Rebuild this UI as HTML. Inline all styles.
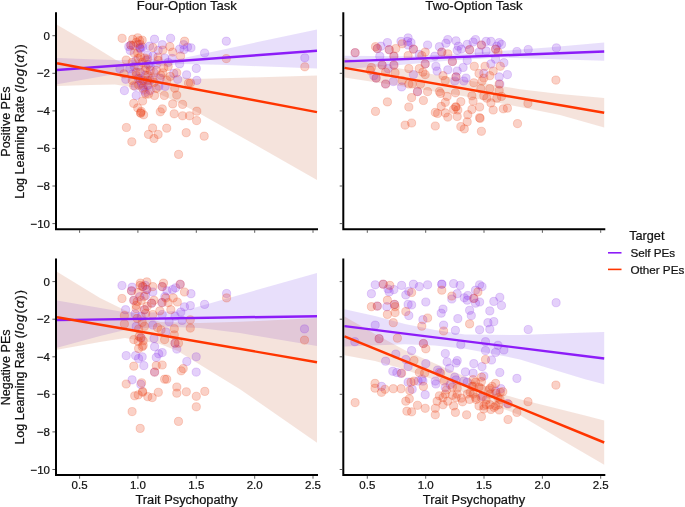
<!DOCTYPE html><html><head><meta charset="utf-8"><style>
html,body{margin:0;padding:0;background:#fff;width:685px;height:507px;overflow:hidden}
svg{display:block;filter:blur(0.3px)}
text{font-family:"Liberation Sans",sans-serif;fill:#111;stroke:#111;stroke-width:0.22px}
</style></head><body>
<svg width="685" height="507" viewBox="0 0 685 507">
<rect width="685" height="507" fill="#fff"/>
<polygon points="57.0,57.9 90.0,59.2 115.0,60.0 150.0,59.8 180.0,58.8 220.0,50.3 260.0,41.6 317.0,29.4 317.0,68.6 260.0,66.3 220.0,64.8 180.0,64.0 150.0,67.5 115.0,74.0 90.0,78.5 57.0,84.2" fill="rgba(115,60,230,0.165)"/>
<polygon points="57.0,24.8 90.0,44.0 116.0,60.0 150.0,72.0 193.6,79.0 250.0,77.5 317.0,75.6 317.0,180.0 260.0,147.5 200.0,113.8 175.0,101.0 150.0,90.0 115.0,84.5 90.0,85.0 57.0,86.0" fill="rgba(195,90,45,0.17)"/>
<g fill="rgba(132,40,232,0.22)" stroke="rgba(132,40,232,0.22)" stroke-width="0.9">
<circle cx="130.8" cy="45.2" r="4.1"/>
<circle cx="139.6" cy="48.1" r="4.1"/>
<circle cx="142.6" cy="47.1" r="4.1"/>
<circle cx="128.8" cy="46.6" r="4.1"/>
<circle cx="149.5" cy="46.2" r="4.1"/>
<circle cx="119.9" cy="68.8" r="4.1"/>
<circle cx="129.8" cy="68.8" r="4.1"/>
<circle cx="135.7" cy="60.9" r="4.1"/>
<circle cx="147.5" cy="55.0" r="4.1"/>
<circle cx="154.5" cy="39.2" r="4.1"/>
<circle cx="170.6" cy="38.3" r="4.1"/>
<circle cx="162.3" cy="44.7" r="4.1"/>
<circle cx="183.6" cy="44.7" r="4.1"/>
<circle cx="179.6" cy="49.1" r="4.1"/>
<circle cx="187.5" cy="47.1" r="4.1"/>
<circle cx="153.0" cy="56.0" r="4.1"/>
<circle cx="164.8" cy="58.0" r="4.1"/>
<circle cx="186.6" cy="74.8" r="4.1"/>
<circle cx="154.0" cy="72.8" r="4.1"/>
<circle cx="179.6" cy="63.9" r="4.1"/>
<circle cx="124.4" cy="90.6" r="4.1"/>
<circle cx="136.2" cy="95.5" r="4.1"/>
<circle cx="125.8" cy="79.3" r="4.1"/>
<circle cx="141.6" cy="83.2" r="4.1"/>
<circle cx="143.6" cy="90.1" r="4.1"/>
<circle cx="158.8" cy="86.2" r="4.1"/>
<circle cx="173.7" cy="73.4" r="4.1"/>
<circle cx="177.7" cy="79.3" r="4.1"/>
<circle cx="143.2" cy="86.2" r="4.1"/>
<circle cx="226.3" cy="41.2" r="4.1"/>
<circle cx="204.6" cy="53.0" r="4.1"/>
<circle cx="196.3" cy="68.4" r="4.1"/>
<circle cx="196.8" cy="80.4" r="4.1"/>
<circle cx="191.0" cy="47.8" r="4.1"/>
<circle cx="184.0" cy="49.6" r="4.1"/>
<circle cx="304.8" cy="57.8" r="4.1"/>
<circle cx="134.2" cy="66.4" r="4.1"/>
<circle cx="140.2" cy="72.4" r="4.1"/>
<circle cx="148.2" cy="64.4" r="4.1"/>
<circle cx="156.2" cy="64.4" r="4.1"/>
<circle cx="160.2" cy="78.4" r="4.1"/>
<circle cx="150.2" cy="80.4" r="4.1"/>
<circle cx="138.2" cy="78.4" r="4.1"/>
<circle cx="132.2" cy="74.4" r="4.1"/>
<circle cx="145.2" cy="75.4" r="4.1"/>
<circle cx="168.2" cy="62.4" r="4.1"/>
<circle cx="172.2" cy="58.4" r="4.1"/>
<circle cx="158.2" cy="50.4" r="4.1"/>
<circle cx="165.2" cy="86.4" r="4.1"/>
<circle cx="150.2" cy="90.4" r="4.1"/>
<circle cx="140.2" cy="80.4" r="4.1"/>
<circle cx="148.2" cy="85.4" r="4.1"/>
<circle cx="145.2" cy="92.4" r="4.1"/>
<circle cx="135.2" cy="86.4" r="4.1"/>
<circle cx="130.2" cy="50.4" r="4.1"/>
<circle cx="138.2" cy="44.4" r="4.1"/>
<circle cx="146.2" cy="60.4" r="4.1"/>
<circle cx="150.2" cy="66.4" r="4.1"/>
<circle cx="140.6" cy="49.0" r="4.1"/>
<circle cx="140.2" cy="47.6" r="4.1"/>
</g>
<g fill="rgba(234,58,12,0.232)" stroke="rgba(234,58,12,0.232)" stroke-width="0.9">
<circle cx="122.1" cy="38.3" r="4.1"/>
<circle cx="132.7" cy="39.2" r="4.1"/>
<circle cx="137.7" cy="37.8" r="4.1"/>
<circle cx="139.6" cy="40.7" r="4.1"/>
<circle cx="130.8" cy="45.2" r="4.1"/>
<circle cx="134.2" cy="53.1" r="4.1"/>
<circle cx="137.7" cy="53.1" r="4.1"/>
<circle cx="126.2" cy="60.0" r="4.1"/>
<circle cx="144.6" cy="58.0" r="4.1"/>
<circle cx="147.5" cy="59.0" r="4.1"/>
<circle cx="140.6" cy="57.0" r="4.1"/>
<circle cx="123.9" cy="73.8" r="4.1"/>
<circle cx="184.6" cy="41.2" r="4.1"/>
<circle cx="153.0" cy="47.6" r="4.1"/>
<circle cx="162.8" cy="50.1" r="4.1"/>
<circle cx="169.8" cy="46.6" r="4.1"/>
<circle cx="172.7" cy="52.1" r="4.1"/>
<circle cx="180.6" cy="56.0" r="4.1"/>
<circle cx="158.0" cy="57.0" r="4.1"/>
<circle cx="142.2" cy="40.2" r="4.1"/>
<circle cx="146.1" cy="67.8" r="4.1"/>
<circle cx="163.8" cy="67.8" r="4.1"/>
<circle cx="176.7" cy="72.8" r="4.1"/>
<circle cx="162.8" cy="72.8" r="4.1"/>
<circle cx="133.7" cy="85.7" r="4.1"/>
<circle cx="133.7" cy="103.4" r="4.1"/>
<circle cx="142.6" cy="101.0" r="4.1"/>
<circle cx="137.7" cy="107.9" r="4.1"/>
<circle cx="140.6" cy="112.8" r="4.1"/>
<circle cx="143.6" cy="114.8" r="4.1"/>
<circle cx="138.7" cy="85.2" r="4.1"/>
<circle cx="142.6" cy="88.2" r="4.1"/>
<circle cx="147.5" cy="85.2" r="4.1"/>
<circle cx="145.6" cy="94.1" r="4.1"/>
<circle cx="148.5" cy="94.1" r="4.1"/>
<circle cx="147.5" cy="80.3" r="4.1"/>
<circle cx="154.5" cy="95.5" r="4.1"/>
<circle cx="164.3" cy="95.5" r="4.1"/>
<circle cx="172.7" cy="103.9" r="4.1"/>
<circle cx="182.6" cy="104.4" r="4.1"/>
<circle cx="162.3" cy="108.9" r="4.1"/>
<circle cx="160.3" cy="111.8" r="4.1"/>
<circle cx="174.2" cy="113.8" r="4.1"/>
<circle cx="182.6" cy="115.8" r="4.1"/>
<circle cx="189.5" cy="115.8" r="4.1"/>
<circle cx="166.8" cy="80.3" r="4.1"/>
<circle cx="174.7" cy="88.2" r="4.1"/>
<circle cx="176.7" cy="95.1" r="4.1"/>
<circle cx="188.5" cy="83.2" r="4.1"/>
<circle cx="160.8" cy="75.3" r="4.1"/>
<circle cx="126.4" cy="127.5" r="4.1"/>
<circle cx="131.8" cy="141.8" r="4.1"/>
<circle cx="152.6" cy="128.0" r="4.1"/>
<circle cx="148.5" cy="134.4" r="4.1"/>
<circle cx="158.1" cy="134.4" r="4.1"/>
<circle cx="154.0" cy="138.5" r="4.1"/>
<circle cx="166.7" cy="128.2" r="4.1"/>
<circle cx="178.6" cy="154.4" r="4.1"/>
<circle cx="186.2" cy="132.7" r="4.1"/>
<circle cx="204.2" cy="136.2" r="4.1"/>
<circle cx="196.6" cy="120.6" r="4.1"/>
<circle cx="226.3" cy="58.6" r="4.1"/>
<circle cx="190.5" cy="83.0" r="4.1"/>
<circle cx="196.8" cy="111.2" r="4.1"/>
<circle cx="304.8" cy="66.8" r="4.1"/>
<circle cx="132.2" cy="62.4" r="4.1"/>
<circle cx="138.2" cy="66.4" r="4.1"/>
<circle cx="142.2" cy="62.4" r="4.1"/>
<circle cx="150.2" cy="70.4" r="4.1"/>
<circle cx="156.2" cy="70.4" r="4.1"/>
<circle cx="136.2" cy="72.4" r="4.1"/>
<circle cx="132.2" cy="80.4" r="4.1"/>
<circle cx="140.2" cy="78.4" r="4.1"/>
<circle cx="154.2" cy="82.4" r="4.1"/>
<circle cx="158.2" cy="60.4" r="4.1"/>
<circle cx="168.2" cy="66.4" r="4.1"/>
<circle cx="170.2" cy="76.4" r="4.1"/>
<circle cx="156.2" cy="88.4" r="4.1"/>
<circle cx="143.2" cy="80.4" r="4.1"/>
<circle cx="141.2" cy="111.4" r="4.1"/>
<circle cx="140.7" cy="113.2" r="4.1"/>
<circle cx="148.2" cy="75.4" r="4.1"/>
<circle cx="152.2" cy="78.4" r="4.1"/>
<circle cx="136.2" cy="75.4" r="4.1"/>
<circle cx="145.2" cy="70.4" r="4.1"/>
<circle cx="138.2" cy="58.4" r="4.1"/>
<circle cx="133.2" cy="45.4" r="4.1"/>
<circle cx="140.2" cy="44.4" r="4.1"/>
<circle cx="136.2" cy="42.4" r="4.1"/>
</g>
<line x1="57" y1="70" x2="317" y2="50.8" stroke="#8c1cf8" stroke-width="2.45"/>
<line x1="57" y1="63.2" x2="317" y2="112.1" stroke="#ff3500" stroke-width="2.45"/>
<path d="M56.0 13.3 V229.2 H317.0" fill="none" stroke="#000" stroke-width="2" stroke-linecap="square" stroke-linejoin="miter"/>
<line x1="52.4" y1="35.7" x2="55.0" y2="35.7" stroke="#333" stroke-width="0.8"/>
<text x="50.0" y="39.7" font-size="11.5" text-anchor="end">0</text>
<line x1="52.4" y1="73.3" x2="55.0" y2="73.3" stroke="#333" stroke-width="0.8"/>
<text x="50.0" y="77.3" font-size="11.5" text-anchor="end">−2</text>
<line x1="52.4" y1="110.9" x2="55.0" y2="110.9" stroke="#333" stroke-width="0.8"/>
<text x="50.0" y="114.9" font-size="11.5" text-anchor="end">−4</text>
<line x1="52.4" y1="148.4" x2="55.0" y2="148.4" stroke="#333" stroke-width="0.8"/>
<text x="50.0" y="152.4" font-size="11.5" text-anchor="end">−6</text>
<line x1="52.4" y1="186.0" x2="55.0" y2="186.0" stroke="#333" stroke-width="0.8"/>
<text x="50.0" y="190.0" font-size="11.5" text-anchor="end">−8</text>
<line x1="52.4" y1="223.6" x2="55.0" y2="223.6" stroke="#333" stroke-width="0.8"/>
<text x="50.0" y="227.6" font-size="11.5" text-anchor="end">−10</text>
<line x1="79.6" y1="230.2" x2="79.6" y2="232.8" stroke="#333" stroke-width="0.8"/>
<line x1="137.9" y1="230.2" x2="137.9" y2="232.8" stroke="#333" stroke-width="0.8"/>
<line x1="196.3" y1="230.2" x2="196.3" y2="232.8" stroke="#333" stroke-width="0.8"/>
<line x1="254.7" y1="230.2" x2="254.7" y2="232.8" stroke="#333" stroke-width="0.8"/>
<line x1="313.0" y1="230.2" x2="313.0" y2="232.8" stroke="#333" stroke-width="0.8"/>
<polygon points="344.5,55.7 400.0,56.3 450.0,54.5 500.0,51.0 548.0,47.5 604.2,42.5 604.2,60.7 548.0,59.0 500.0,57.5 450.0,60.5 400.0,65.0 344.5,69.0" fill="rgba(115,60,230,0.165)"/>
<polygon points="344.5,58.0 400.0,68.5 460.0,79.0 520.0,89.2 560.0,94.1 604.2,98.0 604.2,127.6 560.0,114.9 540.0,110.9 520.0,107.0 460.0,95.5 400.0,86.0 344.5,77.4" fill="rgba(195,90,45,0.17)"/>
<g fill="rgba(132,40,232,0.22)" stroke="rgba(132,40,232,0.22)" stroke-width="0.9">
<circle cx="355.1" cy="52.7" r="4.1"/>
<circle cx="377.3" cy="48.5" r="4.1"/>
<circle cx="387.4" cy="42.6" r="4.1"/>
<circle cx="380.9" cy="46.2" r="4.1"/>
<circle cx="379.8" cy="56.2" r="4.1"/>
<circle cx="389.2" cy="49.7" r="4.1"/>
<circle cx="401.0" cy="41.4" r="4.1"/>
<circle cx="408.1" cy="37.9" r="4.1"/>
<circle cx="408.1" cy="45.0" r="4.1"/>
<circle cx="393.9" cy="56.2" r="4.1"/>
<circle cx="382.1" cy="65.1" r="4.1"/>
<circle cx="393.9" cy="65.1" r="4.1"/>
<circle cx="388.0" cy="68.6" r="4.1"/>
<circle cx="376.1" cy="78.1" r="4.1"/>
<circle cx="385.6" cy="84.0" r="4.1"/>
<circle cx="373.8" cy="75.7" r="4.1"/>
<circle cx="411.0" cy="42.6" r="4.1"/>
<circle cx="407.5" cy="41.4" r="4.1"/>
<circle cx="427.6" cy="45.0" r="4.1"/>
<circle cx="439.4" cy="46.7" r="4.1"/>
<circle cx="447.8" cy="39.6" r="4.1"/>
<circle cx="445.9" cy="43.2" r="4.1"/>
<circle cx="456.0" cy="40.8" r="4.1"/>
<circle cx="458.4" cy="46.2" r="4.1"/>
<circle cx="457.2" cy="50.3" r="4.1"/>
<circle cx="434.8" cy="56.2" r="4.1"/>
<circle cx="419.3" cy="54.4" r="4.1"/>
<circle cx="425.2" cy="63.9" r="4.1"/>
<circle cx="435.9" cy="66.3" r="4.1"/>
<circle cx="437.1" cy="71.0" r="4.1"/>
<circle cx="447.8" cy="69.8" r="4.1"/>
<circle cx="457.2" cy="71.0" r="4.1"/>
<circle cx="463.1" cy="67.5" r="4.1"/>
<circle cx="456.0" cy="76.9" r="4.1"/>
<circle cx="413.4" cy="74.6" r="4.1"/>
<circle cx="413.4" cy="49.1" r="4.1"/>
<circle cx="441.8" cy="52.1" r="4.1"/>
<circle cx="452.4" cy="61.5" r="4.1"/>
<circle cx="475.5" cy="39.6" r="4.1"/>
<circle cx="473.1" cy="42.0" r="4.1"/>
<circle cx="467.2" cy="44.4" r="4.1"/>
<circle cx="486.1" cy="41.4" r="4.1"/>
<circle cx="490.9" cy="41.4" r="4.1"/>
<circle cx="499.2" cy="42.6" r="4.1"/>
<circle cx="501.5" cy="44.4" r="4.1"/>
<circle cx="496.8" cy="46.2" r="4.1"/>
<circle cx="516.9" cy="51.5" r="4.1"/>
<circle cx="479.0" cy="52.1" r="4.1"/>
<circle cx="486.1" cy="50.9" r="4.1"/>
<circle cx="467.2" cy="60.4" r="4.1"/>
<circle cx="495.6" cy="59.2" r="4.1"/>
<circle cx="461.3" cy="49.1" r="4.1"/>
<circle cx="503.9" cy="62.7" r="4.1"/>
<circle cx="507.4" cy="74.6" r="4.1"/>
<circle cx="499.2" cy="76.9" r="4.1"/>
<circle cx="466.0" cy="78.1" r="4.1"/>
<circle cx="483.8" cy="73.4" r="4.1"/>
<circle cx="490.9" cy="63.9" r="4.1"/>
<circle cx="481.4" cy="45.0" r="4.1"/>
<circle cx="469.6" cy="49.7" r="4.1"/>
<circle cx="495.6" cy="49.1" r="4.1"/>
<circle cx="401.6" cy="86.9" r="4.1"/>
<circle cx="393.3" cy="81.6" r="4.1"/>
<circle cx="417.5" cy="91.6" r="4.1"/>
<circle cx="454.8" cy="81.0" r="4.1"/>
<circle cx="463.8" cy="81.0" r="4.1"/>
<circle cx="499.8" cy="84.0" r="4.1"/>
<circle cx="528.2" cy="49.5" r="4.1"/>
<circle cx="556.4" cy="47.9" r="4.1"/>
</g>
<g fill="rgba(234,58,12,0.232)" stroke="rgba(234,58,12,0.232)" stroke-width="0.9">
<circle cx="355.1" cy="52.7" r="4.1"/>
<circle cx="375.5" cy="46.7" r="4.1"/>
<circle cx="377.3" cy="48.5" r="4.1"/>
<circle cx="389.2" cy="49.7" r="4.1"/>
<circle cx="395.8" cy="48.5" r="4.1"/>
<circle cx="402.2" cy="43.8" r="4.1"/>
<circle cx="393.9" cy="56.2" r="4.1"/>
<circle cx="382.1" cy="65.1" r="4.1"/>
<circle cx="393.9" cy="65.1" r="4.1"/>
<circle cx="371.4" cy="67.5" r="4.1"/>
<circle cx="370.2" cy="70.4" r="4.1"/>
<circle cx="385.6" cy="72.2" r="4.1"/>
<circle cx="395.1" cy="72.8" r="4.1"/>
<circle cx="408.1" cy="55.6" r="4.1"/>
<circle cx="376.1" cy="78.1" r="4.1"/>
<circle cx="385.6" cy="84.0" r="4.1"/>
<circle cx="402.2" cy="80.5" r="4.1"/>
<circle cx="413.4" cy="49.1" r="4.1"/>
<circle cx="441.8" cy="52.1" r="4.1"/>
<circle cx="452.4" cy="61.5" r="4.1"/>
<circle cx="425.2" cy="52.1" r="4.1"/>
<circle cx="421.8" cy="55.6" r="4.1"/>
<circle cx="447.8" cy="53.8" r="4.1"/>
<circle cx="408.8" cy="68.6" r="4.1"/>
<circle cx="419.3" cy="68.6" r="4.1"/>
<circle cx="425.2" cy="74.6" r="4.1"/>
<circle cx="422.9" cy="72.2" r="4.1"/>
<circle cx="443.0" cy="75.7" r="4.1"/>
<circle cx="445.3" cy="80.5" r="4.1"/>
<circle cx="412.2" cy="84.0" r="4.1"/>
<circle cx="420.5" cy="84.0" r="4.1"/>
<circle cx="425.2" cy="63.9" r="4.1"/>
<circle cx="456.0" cy="76.9" r="4.1"/>
<circle cx="481.4" cy="45.0" r="4.1"/>
<circle cx="469.6" cy="49.7" r="4.1"/>
<circle cx="495.6" cy="49.1" r="4.1"/>
<circle cx="498.0" cy="52.1" r="4.1"/>
<circle cx="474.3" cy="66.3" r="4.1"/>
<circle cx="485.0" cy="66.3" r="4.1"/>
<circle cx="493.2" cy="71.0" r="4.1"/>
<circle cx="500.3" cy="66.3" r="4.1"/>
<circle cx="479.0" cy="73.4" r="4.1"/>
<circle cx="483.8" cy="78.1" r="4.1"/>
<circle cx="489.8" cy="75.7" r="4.1"/>
<circle cx="499.2" cy="84.0" r="4.1"/>
<circle cx="387.4" cy="101.9" r="4.1"/>
<circle cx="375.5" cy="111.4" r="4.1"/>
<circle cx="408.8" cy="107.0" r="4.1"/>
<circle cx="405.1" cy="125.1" r="4.1"/>
<circle cx="417.5" cy="91.6" r="4.1"/>
<circle cx="427.6" cy="91.6" r="4.1"/>
<circle cx="411.6" cy="97.6" r="4.1"/>
<circle cx="423.4" cy="100.5" r="4.1"/>
<circle cx="439.4" cy="91.6" r="4.1"/>
<circle cx="440.6" cy="93.4" r="4.1"/>
<circle cx="447.1" cy="96.4" r="4.1"/>
<circle cx="455.4" cy="92.8" r="4.1"/>
<circle cx="445.3" cy="102.3" r="4.1"/>
<circle cx="441.2" cy="106.4" r="4.1"/>
<circle cx="435.3" cy="112.4" r="4.1"/>
<circle cx="437.6" cy="113.5" r="4.1"/>
<circle cx="445.3" cy="112.9" r="4.1"/>
<circle cx="447.8" cy="117.1" r="4.1"/>
<circle cx="453.6" cy="109.4" r="4.1"/>
<circle cx="456.0" cy="107.0" r="4.1"/>
<circle cx="457.8" cy="110.0" r="4.1"/>
<circle cx="457.2" cy="116.5" r="4.1"/>
<circle cx="460.8" cy="101.7" r="4.1"/>
<circle cx="411.6" cy="123.0" r="4.1"/>
<circle cx="435.3" cy="126.0" r="4.1"/>
<circle cx="464.3" cy="128.9" r="4.1"/>
<circle cx="408.8" cy="84.0" r="4.1"/>
<circle cx="473.8" cy="82.8" r="4.1"/>
<circle cx="482.0" cy="81.0" r="4.1"/>
<circle cx="480.8" cy="88.7" r="4.1"/>
<circle cx="489.8" cy="88.7" r="4.1"/>
<circle cx="499.2" cy="90.5" r="4.1"/>
<circle cx="471.9" cy="95.8" r="4.1"/>
<circle cx="483.8" cy="95.8" r="4.1"/>
<circle cx="486.8" cy="98.2" r="4.1"/>
<circle cx="501.5" cy="96.4" r="4.1"/>
<circle cx="496.8" cy="98.2" r="4.1"/>
<circle cx="473.1" cy="101.1" r="4.1"/>
<circle cx="490.9" cy="102.9" r="4.1"/>
<circle cx="479.6" cy="107.0" r="4.1"/>
<circle cx="471.9" cy="109.4" r="4.1"/>
<circle cx="493.2" cy="110.0" r="4.1"/>
<circle cx="503.3" cy="108.8" r="4.1"/>
<circle cx="507.4" cy="108.2" r="4.1"/>
<circle cx="467.8" cy="114.7" r="4.1"/>
<circle cx="479.6" cy="117.7" r="4.1"/>
<circle cx="467.2" cy="121.8" r="4.1"/>
<circle cx="481.4" cy="131.3" r="4.1"/>
<circle cx="517.5" cy="123.6" r="4.1"/>
<circle cx="460.8" cy="126.6" r="4.1"/>
<circle cx="527.9" cy="103.4" r="4.1"/>
<circle cx="555.9" cy="80.1" r="4.1"/>
<circle cx="455.6" cy="106.9" r="4.1"/>
<circle cx="480.1" cy="118.4" r="4.1"/>
</g>
<line x1="344.5" y1="61.4" x2="604.2" y2="51.5" stroke="#8c1cf8" stroke-width="2.45"/>
<line x1="344.5" y1="67.9" x2="604.2" y2="112.8" stroke="#ff3500" stroke-width="2.45"/>
<path d="M343.3 13.3 V229.2 H604.3" fill="none" stroke="#000" stroke-width="2" stroke-linecap="square" stroke-linejoin="miter"/>
<line x1="339.7" y1="35.7" x2="342.3" y2="35.7" stroke="#333" stroke-width="0.8"/>
<line x1="339.7" y1="73.3" x2="342.3" y2="73.3" stroke="#333" stroke-width="0.8"/>
<line x1="339.7" y1="110.9" x2="342.3" y2="110.9" stroke="#333" stroke-width="0.8"/>
<line x1="339.7" y1="148.4" x2="342.3" y2="148.4" stroke="#333" stroke-width="0.8"/>
<line x1="339.7" y1="186.0" x2="342.3" y2="186.0" stroke="#333" stroke-width="0.8"/>
<line x1="339.7" y1="223.6" x2="342.3" y2="223.6" stroke="#333" stroke-width="0.8"/>
<line x1="367.3" y1="230.2" x2="367.3" y2="232.8" stroke="#333" stroke-width="0.8"/>
<line x1="425.7" y1="230.2" x2="425.7" y2="232.8" stroke="#333" stroke-width="0.8"/>
<line x1="484.0" y1="230.2" x2="484.0" y2="232.8" stroke="#333" stroke-width="0.8"/>
<line x1="542.4" y1="230.2" x2="542.4" y2="232.8" stroke="#333" stroke-width="0.8"/>
<line x1="600.7" y1="230.2" x2="600.7" y2="232.8" stroke="#333" stroke-width="0.8"/>
<polygon points="57.0,300.4 125.0,312.3 160.0,312.5 190.0,309.0 250.0,291.9 317.0,273.1 317.0,346.1 240.0,333.0 200.0,328.0 160.0,326.5 125.0,330.0 100.0,336.0 57.0,347.8" fill="rgba(115,60,230,0.165)"/>
<polygon points="57.0,271.8 100.0,298.0 125.0,310.3 160.0,322.0 200.0,323.0 240.0,321.8 317.0,318.0 317.0,442.7 240.0,389.2 220.0,377.1 177.8,351.0 160.0,344.0 125.0,337.9 100.0,342.0 57.0,349.7" fill="rgba(195,90,45,0.17)"/>
<g fill="rgba(132,40,232,0.22)" stroke="rgba(132,40,232,0.22)" stroke-width="0.9">
<circle cx="122.0" cy="285.5" r="4.1"/>
<circle cx="131.5" cy="290.8" r="4.1"/>
<circle cx="132.1" cy="287.2" r="4.1"/>
<circle cx="142.7" cy="286.6" r="4.1"/>
<circle cx="146.8" cy="289.6" r="4.1"/>
<circle cx="152.8" cy="292.0" r="4.1"/>
<circle cx="162.2" cy="286.6" r="4.1"/>
<circle cx="167.0" cy="290.8" r="4.1"/>
<circle cx="133.8" cy="300.3" r="4.1"/>
<circle cx="139.8" cy="296.7" r="4.1"/>
<circle cx="145.7" cy="295.5" r="4.1"/>
<circle cx="151.6" cy="303.2" r="4.1"/>
<circle cx="125.6" cy="309.7" r="4.1"/>
<circle cx="144.5" cy="309.7" r="4.1"/>
<circle cx="135.1" cy="313.9" r="4.1"/>
<circle cx="162.2" cy="314.5" r="4.1"/>
<circle cx="152.8" cy="325.1" r="4.1"/>
<circle cx="172.6" cy="289.6" r="4.1"/>
<circle cx="175.6" cy="287.8" r="4.1"/>
<circle cx="191.0" cy="293.7" r="4.1"/>
<circle cx="164.8" cy="296.7" r="4.1"/>
<circle cx="184.5" cy="306.8" r="4.1"/>
<circle cx="190.3" cy="305.6" r="4.1"/>
<circle cx="204.6" cy="304.4" r="4.1"/>
<circle cx="180.8" cy="312.1" r="4.1"/>
<circle cx="175.0" cy="316.2" r="4.1"/>
<circle cx="169.1" cy="321.6" r="4.1"/>
<circle cx="182.1" cy="320.4" r="4.1"/>
<circle cx="162.0" cy="302.6" r="4.1"/>
<circle cx="180.2" cy="284.3" r="4.1"/>
<circle cx="141.0" cy="337.8" r="4.1"/>
<circle cx="154.0" cy="338.4" r="4.1"/>
<circle cx="165.8" cy="331.9" r="4.1"/>
<circle cx="154.6" cy="346.7" r="4.1"/>
<circle cx="126.2" cy="355.6" r="4.1"/>
<circle cx="135.6" cy="355.6" r="4.1"/>
<circle cx="142.2" cy="356.8" r="4.1"/>
<circle cx="138.6" cy="358.5" r="4.1"/>
<circle cx="156.3" cy="357.4" r="4.1"/>
<circle cx="162.2" cy="352.6" r="4.1"/>
<circle cx="158.7" cy="353.8" r="4.1"/>
<circle cx="143.8" cy="365.6" r="4.1"/>
<circle cx="154.6" cy="372.1" r="4.1"/>
<circle cx="132.1" cy="379.8" r="4.1"/>
<circle cx="175.0" cy="343.2" r="4.1"/>
<circle cx="176.8" cy="349.1" r="4.1"/>
<circle cx="196.2" cy="356.8" r="4.1"/>
<circle cx="186.8" cy="361.5" r="4.1"/>
<circle cx="196.2" cy="372.1" r="4.1"/>
<circle cx="140.8" cy="384.4" r="4.1"/>
<circle cx="226.6" cy="293.5" r="4.1"/>
<circle cx="304.5" cy="328.9" r="4.1"/>
<circle cx="145.2" cy="285.4" r="4.1"/>
<circle cx="141.2" cy="316.4" r="4.1"/>
<circle cx="136.2" cy="326.4" r="4.1"/>
</g>
<g fill="rgba(234,58,12,0.232)" stroke="rgba(234,58,12,0.232)" stroke-width="0.9">
<circle cx="122.0" cy="298.5" r="4.1"/>
<circle cx="131.5" cy="290.8" r="4.1"/>
<circle cx="140.3" cy="283.1" r="4.1"/>
<circle cx="146.8" cy="281.9" r="4.1"/>
<circle cx="142.7" cy="286.6" r="4.1"/>
<circle cx="146.8" cy="289.6" r="4.1"/>
<circle cx="152.8" cy="286.6" r="4.1"/>
<circle cx="163.5" cy="283.1" r="4.1"/>
<circle cx="162.2" cy="286.6" r="4.1"/>
<circle cx="137.3" cy="301.4" r="4.1"/>
<circle cx="133.8" cy="300.3" r="4.1"/>
<circle cx="154.0" cy="300.3" r="4.1"/>
<circle cx="151.6" cy="303.2" r="4.1"/>
<circle cx="165.8" cy="297.9" r="4.1"/>
<circle cx="168.2" cy="302.6" r="4.1"/>
<circle cx="124.4" cy="315.6" r="4.1"/>
<circle cx="136.2" cy="308.5" r="4.1"/>
<circle cx="144.5" cy="309.7" r="4.1"/>
<circle cx="145.7" cy="313.3" r="4.1"/>
<circle cx="152.8" cy="314.5" r="4.1"/>
<circle cx="159.8" cy="310.9" r="4.1"/>
<circle cx="124.4" cy="323.9" r="4.1"/>
<circle cx="144.5" cy="326.3" r="4.1"/>
<circle cx="157.5" cy="327.5" r="4.1"/>
<circle cx="161.1" cy="329.8" r="4.1"/>
<circle cx="180.2" cy="284.3" r="4.1"/>
<circle cx="184.5" cy="292.0" r="4.1"/>
<circle cx="173.2" cy="297.9" r="4.1"/>
<circle cx="177.3" cy="302.0" r="4.1"/>
<circle cx="170.8" cy="309.7" r="4.1"/>
<circle cx="190.3" cy="319.8" r="4.1"/>
<circle cx="190.3" cy="328.1" r="4.1"/>
<circle cx="174.3" cy="328.7" r="4.1"/>
<circle cx="162.0" cy="302.6" r="4.1"/>
<circle cx="133.8" cy="339.6" r="4.1"/>
<circle cx="141.0" cy="337.8" r="4.1"/>
<circle cx="143.2" cy="340.8" r="4.1"/>
<circle cx="138.6" cy="329.0" r="4.1"/>
<circle cx="164.6" cy="339.6" r="4.1"/>
<circle cx="138.6" cy="348.5" r="4.1"/>
<circle cx="142.2" cy="346.7" r="4.1"/>
<circle cx="133.8" cy="366.2" r="4.1"/>
<circle cx="154.6" cy="372.1" r="4.1"/>
<circle cx="156.3" cy="365.6" r="4.1"/>
<circle cx="162.2" cy="365.0" r="4.1"/>
<circle cx="141.6" cy="382.8" r="4.1"/>
<circle cx="126.2" cy="384.0" r="4.1"/>
<circle cx="174.3" cy="334.9" r="4.1"/>
<circle cx="175.0" cy="343.2" r="4.1"/>
<circle cx="178.5" cy="343.2" r="4.1"/>
<circle cx="166.7" cy="379.2" r="4.1"/>
<circle cx="134.7" cy="395.8" r="4.1"/>
<circle cx="138.2" cy="394.9" r="4.1"/>
<circle cx="142.6" cy="392.3" r="4.1"/>
<circle cx="147.8" cy="396.7" r="4.1"/>
<circle cx="152.2" cy="397.6" r="4.1"/>
<circle cx="158.3" cy="392.3" r="4.1"/>
<circle cx="176.8" cy="387.0" r="4.1"/>
<circle cx="176.8" cy="393.2" r="4.1"/>
<circle cx="186.3" cy="391.8" r="4.1"/>
<circle cx="196.3" cy="396.3" r="4.1"/>
<circle cx="204.8" cy="391.4" r="4.1"/>
<circle cx="196.3" cy="406.8" r="4.1"/>
<circle cx="132.1" cy="411.6" r="4.1"/>
<circle cx="178.5" cy="421.4" r="4.1"/>
<circle cx="140.2" cy="428.4" r="4.1"/>
<circle cx="181.2" cy="370.8" r="4.1"/>
<circle cx="226.6" cy="297.9" r="4.1"/>
<circle cx="304.5" cy="340.1" r="4.1"/>
<circle cx="138.2" cy="292.4" r="4.1"/>
<circle cx="141.2" cy="300.4" r="4.1"/>
<circle cx="137.2" cy="318.4" r="4.1"/>
<circle cx="142.2" cy="322.4" r="4.1"/>
<circle cx="139.2" cy="336.4" r="4.1"/>
<circle cx="136.2" cy="305.4" r="4.1"/>
<circle cx="144.2" cy="296.4" r="4.1"/>
<circle cx="147.2" cy="306.4" r="4.1"/>
<circle cx="140.2" cy="285.4" r="4.1"/>
<circle cx="143.2" cy="345.4" r="4.1"/>
<circle cx="138.2" cy="341.4" r="4.1"/>
<circle cx="183.2" cy="368.6" r="4.1"/>
<circle cx="164.6" cy="379.2" r="4.1"/>
<circle cx="142.6" cy="391.4" r="4.1"/>
</g>
<line x1="57" y1="320.1" x2="317" y2="316.2" stroke="#8c1cf8" stroke-width="2.45"/>
<line x1="57" y1="317.2" x2="317" y2="362.2" stroke="#ff3500" stroke-width="2.45"/>
<path d="M56.0 259.6 V475.1 H317.0" fill="none" stroke="#000" stroke-width="2" stroke-linecap="square" stroke-linejoin="miter"/>
<line x1="52.4" y1="281.6" x2="55.0" y2="281.6" stroke="#333" stroke-width="0.8"/>
<text x="50.0" y="285.6" font-size="11.5" text-anchor="end">0</text>
<line x1="52.4" y1="319.2" x2="55.0" y2="319.2" stroke="#333" stroke-width="0.8"/>
<text x="50.0" y="323.2" font-size="11.5" text-anchor="end">−2</text>
<line x1="52.4" y1="356.8" x2="55.0" y2="356.8" stroke="#333" stroke-width="0.8"/>
<text x="50.0" y="360.8" font-size="11.5" text-anchor="end">−4</text>
<line x1="52.4" y1="394.3" x2="55.0" y2="394.3" stroke="#333" stroke-width="0.8"/>
<text x="50.0" y="398.3" font-size="11.5" text-anchor="end">−6</text>
<line x1="52.4" y1="431.9" x2="55.0" y2="431.9" stroke="#333" stroke-width="0.8"/>
<text x="50.0" y="435.9" font-size="11.5" text-anchor="end">−8</text>
<line x1="52.4" y1="469.5" x2="55.0" y2="469.5" stroke="#333" stroke-width="0.8"/>
<text x="50.0" y="473.5" font-size="11.5" text-anchor="end">−10</text>
<line x1="79.6" y1="476.1" x2="79.6" y2="478.7" stroke="#333" stroke-width="0.8"/>
<text x="79.6" y="489.1" font-size="11.5" text-anchor="middle">0.5</text>
<line x1="137.9" y1="476.1" x2="137.9" y2="478.7" stroke="#333" stroke-width="0.8"/>
<text x="137.9" y="489.1" font-size="11.5" text-anchor="middle">1.0</text>
<line x1="196.3" y1="476.1" x2="196.3" y2="478.7" stroke="#333" stroke-width="0.8"/>
<text x="196.3" y="489.1" font-size="11.5" text-anchor="middle">1.5</text>
<line x1="254.7" y1="476.1" x2="254.7" y2="478.7" stroke="#333" stroke-width="0.8"/>
<text x="254.7" y="489.1" font-size="11.5" text-anchor="middle">2.0</text>
<line x1="313.0" y1="476.1" x2="313.0" y2="478.7" stroke="#333" stroke-width="0.8"/>
<text x="313.0" y="489.1" font-size="11.5" text-anchor="middle">2.5</text>
<polygon points="344.5,309.2 375.0,316.0 405.0,324.1 435.0,330.0 465.0,334.5 520.0,335.0 580.0,332.7 604.2,331.9 604.2,384.3 585.0,379.2 520.0,359.5 505.0,356.3 465.0,348.8 435.0,345.5 405.0,344.3 344.5,346.6" fill="rgba(115,60,230,0.165)"/>
<polygon points="344.5,316.6 375.0,334.0 405.0,350.2 435.0,363.5 465.0,376.5 505.0,395.0 520.0,399.2 585.0,415.5 604.2,420.5 604.2,464.8 560.0,439.0 520.0,415.2 505.0,409.5 465.0,393.0 435.0,380.0 400.0,367.9 375.0,361.0 344.5,355.3" fill="rgba(195,90,45,0.17)"/>
<g fill="rgba(132,40,232,0.22)" stroke="rgba(132,40,232,0.22)" stroke-width="0.9">
<circle cx="375.2" cy="284.8" r="4.1"/>
<circle cx="383.2" cy="284.2" r="4.1"/>
<circle cx="388.0" cy="289.0" r="4.1"/>
<circle cx="393.9" cy="289.6" r="4.1"/>
<circle cx="389.2" cy="291.9" r="4.1"/>
<circle cx="401.6" cy="285.4" r="4.1"/>
<circle cx="371.4" cy="293.7" r="4.1"/>
<circle cx="408.8" cy="291.3" r="4.1"/>
<circle cx="377.3" cy="306.1" r="4.1"/>
<circle cx="386.8" cy="306.7" r="4.1"/>
<circle cx="394.5" cy="304.4" r="4.1"/>
<circle cx="408.8" cy="315.6" r="4.1"/>
<circle cx="408.1" cy="304.4" r="4.1"/>
<circle cx="375.2" cy="325.1" r="4.1"/>
<circle cx="413.4" cy="284.2" r="4.1"/>
<circle cx="419.3" cy="286.6" r="4.1"/>
<circle cx="427.6" cy="284.8" r="4.1"/>
<circle cx="441.8" cy="284.2" r="4.1"/>
<circle cx="453.6" cy="283.6" r="4.1"/>
<circle cx="457.2" cy="293.7" r="4.1"/>
<circle cx="451.8" cy="299.0" r="4.1"/>
<circle cx="405.8" cy="294.9" r="4.1"/>
<circle cx="411.6" cy="304.9" r="4.1"/>
<circle cx="425.8" cy="302.0" r="4.1"/>
<circle cx="443.0" cy="309.1" r="4.1"/>
<circle cx="441.2" cy="313.2" r="4.1"/>
<circle cx="422.9" cy="319.7" r="4.1"/>
<circle cx="457.8" cy="318.6" r="4.1"/>
<circle cx="443.6" cy="325.1" r="4.1"/>
<circle cx="455.4" cy="330.4" r="4.1"/>
<circle cx="464.3" cy="297.8" r="4.1"/>
<circle cx="479.6" cy="284.8" r="4.1"/>
<circle cx="482.0" cy="286.6" r="4.1"/>
<circle cx="475.5" cy="290.2" r="4.1"/>
<circle cx="467.8" cy="295.5" r="4.1"/>
<circle cx="467.2" cy="300.2" r="4.1"/>
<circle cx="473.8" cy="298.4" r="4.1"/>
<circle cx="479.6" cy="302.0" r="4.1"/>
<circle cx="475.5" cy="303.2" r="4.1"/>
<circle cx="499.8" cy="297.3" r="4.1"/>
<circle cx="493.8" cy="301.4" r="4.1"/>
<circle cx="501.5" cy="305.5" r="4.1"/>
<circle cx="469.6" cy="310.3" r="4.1"/>
<circle cx="471.3" cy="315.6" r="4.1"/>
<circle cx="489.8" cy="310.9" r="4.1"/>
<circle cx="487.9" cy="322.7" r="4.1"/>
<circle cx="479.6" cy="329.8" r="4.1"/>
<circle cx="489.8" cy="329.2" r="4.1"/>
<circle cx="460.1" cy="285.4" r="4.1"/>
<circle cx="556.1" cy="302.7" r="4.1"/>
<circle cx="528.2" cy="329.5" r="4.1"/>
<circle cx="379.1" cy="338.7" r="4.1"/>
<circle cx="354.8" cy="341.7" r="4.1"/>
<circle cx="395.8" cy="354.1" r="4.1"/>
<circle cx="385.6" cy="361.2" r="4.1"/>
<circle cx="405.8" cy="359.5" r="4.1"/>
<circle cx="392.8" cy="371.3" r="4.1"/>
<circle cx="396.8" cy="372.5" r="4.1"/>
<circle cx="408.1" cy="366.6" r="4.1"/>
<circle cx="423.4" cy="343.5" r="4.1"/>
<circle cx="411.6" cy="350.6" r="4.1"/>
<circle cx="445.3" cy="353.5" r="4.1"/>
<circle cx="425.8" cy="363.6" r="4.1"/>
<circle cx="447.1" cy="361.8" r="4.1"/>
<circle cx="457.2" cy="360.6" r="4.1"/>
<circle cx="456.0" cy="363.0" r="4.1"/>
<circle cx="449.5" cy="368.3" r="4.1"/>
<circle cx="437.6" cy="370.1" r="4.1"/>
<circle cx="454.8" cy="377.2" r="4.1"/>
<circle cx="421.8" cy="379.0" r="4.1"/>
<circle cx="493.8" cy="321.6" r="4.1"/>
<circle cx="485.5" cy="341.7" r="4.1"/>
<circle cx="498.0" cy="345.3" r="4.1"/>
<circle cx="485.5" cy="350.6" r="4.1"/>
<circle cx="495.6" cy="352.4" r="4.1"/>
<circle cx="503.9" cy="350.0" r="4.1"/>
<circle cx="491.5" cy="360.0" r="4.1"/>
<circle cx="473.8" cy="363.6" r="4.1"/>
<circle cx="482.0" cy="366.6" r="4.1"/>
<circle cx="465.4" cy="371.9" r="4.1"/>
<circle cx="473.1" cy="373.1" r="4.1"/>
<circle cx="499.8" cy="372.5" r="4.1"/>
<circle cx="483.8" cy="376.0" r="4.1"/>
<circle cx="516.9" cy="378.4" r="4.1"/>
<circle cx="460.8" cy="344.7" r="4.1"/>
<circle cx="381.5" cy="386.4" r="4.1"/>
<circle cx="408.1" cy="382.2" r="4.1"/>
<circle cx="401.0" cy="373.4" r="4.1"/>
<circle cx="412.2" cy="389.3" r="4.1"/>
<circle cx="422.9" cy="381.1" r="4.1"/>
<circle cx="418.1" cy="381.1" r="4.1"/>
<circle cx="425.2" cy="394.7" r="4.1"/>
<circle cx="435.3" cy="381.1" r="4.1"/>
<circle cx="435.9" cy="384.0" r="4.1"/>
<circle cx="445.3" cy="387.6" r="4.1"/>
<circle cx="450.1" cy="384.6" r="4.1"/>
<circle cx="456.0" cy="379.9" r="4.1"/>
<circle cx="439.4" cy="372.2" r="4.1"/>
<circle cx="463.8" cy="381.1" r="4.1"/>
<circle cx="467.2" cy="382.2" r="4.1"/>
<circle cx="482.6" cy="396.4" r="4.1"/>
<circle cx="495.6" cy="391.1" r="4.1"/>
<circle cx="500.9" cy="388.7" r="4.1"/>
<circle cx="507.4" cy="403.5" r="4.1"/>
<circle cx="441.8" cy="284.2" r="4.1"/>
</g>
<g fill="rgba(234,58,12,0.232)" stroke="rgba(234,58,12,0.232)" stroke-width="0.9">
<circle cx="383.2" cy="284.2" r="4.1"/>
<circle cx="389.8" cy="285.4" r="4.1"/>
<circle cx="387.4" cy="300.2" r="4.1"/>
<circle cx="371.4" cy="306.7" r="4.1"/>
<circle cx="377.3" cy="306.1" r="4.1"/>
<circle cx="394.5" cy="304.4" r="4.1"/>
<circle cx="395.1" cy="306.7" r="4.1"/>
<circle cx="387.4" cy="314.4" r="4.1"/>
<circle cx="395.1" cy="312.6" r="4.1"/>
<circle cx="393.3" cy="322.7" r="4.1"/>
<circle cx="411.6" cy="292.5" r="4.1"/>
<circle cx="441.8" cy="290.2" r="4.1"/>
<circle cx="451.8" cy="296.1" r="4.1"/>
<circle cx="405.8" cy="311.5" r="4.1"/>
<circle cx="427.6" cy="318.0" r="4.1"/>
<circle cx="421.8" cy="326.2" r="4.1"/>
<circle cx="443.6" cy="331.0" r="4.1"/>
<circle cx="477.9" cy="291.9" r="4.1"/>
<circle cx="473.8" cy="298.4" r="4.1"/>
<circle cx="469.6" cy="323.9" r="4.1"/>
<circle cx="379.1" cy="338.7" r="4.1"/>
<circle cx="397.4" cy="338.2" r="4.1"/>
<circle cx="401.6" cy="373.1" r="4.1"/>
<circle cx="423.4" cy="343.5" r="4.1"/>
<circle cx="425.8" cy="348.8" r="4.1"/>
<circle cx="414.0" cy="360.6" r="4.1"/>
<circle cx="419.3" cy="372.5" r="4.1"/>
<circle cx="424.6" cy="373.1" r="4.1"/>
<circle cx="440.6" cy="373.1" r="4.1"/>
<circle cx="485.5" cy="359.5" r="4.1"/>
<circle cx="481.4" cy="377.2" r="4.1"/>
<circle cx="473.1" cy="379.6" r="4.1"/>
<circle cx="355.1" cy="402.6" r="4.1"/>
<circle cx="375.0" cy="383.4" r="4.1"/>
<circle cx="375.0" cy="388.2" r="4.1"/>
<circle cx="381.5" cy="392.3" r="4.1"/>
<circle cx="385.0" cy="389.3" r="4.1"/>
<circle cx="393.3" cy="388.7" r="4.1"/>
<circle cx="401.0" cy="388.7" r="4.1"/>
<circle cx="405.8" cy="401.2" r="4.1"/>
<circle cx="406.9" cy="411.2" r="4.1"/>
<circle cx="409.3" cy="398.8" r="4.1"/>
<circle cx="411.0" cy="382.2" r="4.1"/>
<circle cx="414.0" cy="381.1" r="4.1"/>
<circle cx="423.4" cy="386.4" r="4.1"/>
<circle cx="409.8" cy="390.5" r="4.1"/>
<circle cx="417.5" cy="405.3" r="4.1"/>
<circle cx="425.2" cy="408.3" r="4.1"/>
<circle cx="411.6" cy="411.8" r="4.1"/>
<circle cx="435.3" cy="408.3" r="4.1"/>
<circle cx="435.3" cy="414.8" r="4.1"/>
<circle cx="437.1" cy="401.2" r="4.1"/>
<circle cx="439.4" cy="395.8" r="4.1"/>
<circle cx="443.0" cy="397.6" r="4.1"/>
<circle cx="445.3" cy="394.1" r="4.1"/>
<circle cx="443.0" cy="404.7" r="4.1"/>
<circle cx="447.8" cy="401.2" r="4.1"/>
<circle cx="452.4" cy="395.3" r="4.1"/>
<circle cx="456.0" cy="397.6" r="4.1"/>
<circle cx="457.2" cy="394.1" r="4.1"/>
<circle cx="453.6" cy="405.9" r="4.1"/>
<circle cx="455.4" cy="412.4" r="4.1"/>
<circle cx="446.5" cy="389.9" r="4.1"/>
<circle cx="452.4" cy="387.0" r="4.1"/>
<circle cx="457.2" cy="388.2" r="4.1"/>
<circle cx="444.1" cy="381.1" r="4.1"/>
<circle cx="475.5" cy="382.2" r="4.1"/>
<circle cx="481.4" cy="381.6" r="4.1"/>
<circle cx="471.9" cy="386.4" r="4.1"/>
<circle cx="479.0" cy="387.0" r="4.1"/>
<circle cx="467.2" cy="394.1" r="4.1"/>
<circle cx="473.1" cy="394.1" r="4.1"/>
<circle cx="475.5" cy="397.6" r="4.1"/>
<circle cx="469.6" cy="399.4" r="4.1"/>
<circle cx="461.3" cy="398.2" r="4.1"/>
<circle cx="462.5" cy="401.8" r="4.1"/>
<circle cx="481.4" cy="388.7" r="4.1"/>
<circle cx="489.1" cy="389.9" r="4.1"/>
<circle cx="495.6" cy="383.4" r="4.1"/>
<circle cx="492.1" cy="386.4" r="4.1"/>
<circle cx="489.8" cy="394.1" r="4.1"/>
<circle cx="500.3" cy="392.3" r="4.1"/>
<circle cx="498.0" cy="397.6" r="4.1"/>
<circle cx="486.1" cy="400.0" r="4.1"/>
<circle cx="479.0" cy="405.9" r="4.1"/>
<circle cx="483.8" cy="405.9" r="4.1"/>
<circle cx="489.8" cy="404.7" r="4.1"/>
<circle cx="483.8" cy="408.9" r="4.1"/>
<circle cx="490.9" cy="409.5" r="4.1"/>
<circle cx="495.6" cy="405.9" r="4.1"/>
<circle cx="499.2" cy="410.0" r="4.1"/>
<circle cx="498.6" cy="404.7" r="4.1"/>
<circle cx="466.6" cy="414.8" r="4.1"/>
<circle cx="481.4" cy="416.6" r="4.1"/>
<circle cx="508.0" cy="419.5" r="4.1"/>
<circle cx="516.9" cy="412.4" r="4.1"/>
<circle cx="502.8" cy="391.7" r="4.1"/>
<circle cx="555.9" cy="385.1" r="4.1"/>
<circle cx="528.0" cy="401.7" r="4.1"/>
<circle cx="508.3" cy="404.0" r="4.1"/>
<circle cx="470.1" cy="392.4" r="4.1"/>
<circle cx="476.1" cy="399.4" r="4.1"/>
<circle cx="490.1" cy="388.4" r="4.1"/>
<circle cx="496.1" cy="393.4" r="4.1"/>
<circle cx="486.1" cy="404.4" r="4.1"/>
<circle cx="494.1" cy="407.4" r="4.1"/>
<circle cx="481.1" cy="397.4" r="4.1"/>
<circle cx="500.1" cy="399.4" r="4.1"/>
<circle cx="473.1" cy="386.4" r="4.1"/>
</g>
<line x1="344.5" y1="326.1" x2="604.2" y2="358.5" stroke="#8c1cf8" stroke-width="2.45"/>
<line x1="344.5" y1="336.3" x2="604.2" y2="442.5" stroke="#ff3500" stroke-width="2.45"/>
<path d="M343.3 259.6 V475.1 H604.3" fill="none" stroke="#000" stroke-width="2" stroke-linecap="square" stroke-linejoin="miter"/>
<line x1="339.7" y1="281.6" x2="342.3" y2="281.6" stroke="#333" stroke-width="0.8"/>
<line x1="339.7" y1="319.2" x2="342.3" y2="319.2" stroke="#333" stroke-width="0.8"/>
<line x1="339.7" y1="356.8" x2="342.3" y2="356.8" stroke="#333" stroke-width="0.8"/>
<line x1="339.7" y1="394.3" x2="342.3" y2="394.3" stroke="#333" stroke-width="0.8"/>
<line x1="339.7" y1="431.9" x2="342.3" y2="431.9" stroke="#333" stroke-width="0.8"/>
<line x1="339.7" y1="469.5" x2="342.3" y2="469.5" stroke="#333" stroke-width="0.8"/>
<line x1="367.3" y1="476.1" x2="367.3" y2="478.7" stroke="#333" stroke-width="0.8"/>
<text x="367.3" y="489.1" font-size="11.5" text-anchor="middle">0.5</text>
<line x1="425.7" y1="476.1" x2="425.7" y2="478.7" stroke="#333" stroke-width="0.8"/>
<text x="425.7" y="489.1" font-size="11.5" text-anchor="middle">1.0</text>
<line x1="484.0" y1="476.1" x2="484.0" y2="478.7" stroke="#333" stroke-width="0.8"/>
<text x="484.0" y="489.1" font-size="11.5" text-anchor="middle">1.5</text>
<line x1="542.4" y1="476.1" x2="542.4" y2="478.7" stroke="#333" stroke-width="0.8"/>
<text x="542.4" y="489.1" font-size="11.5" text-anchor="middle">2.0</text>
<line x1="600.7" y1="476.1" x2="600.7" y2="478.7" stroke="#333" stroke-width="0.8"/>
<text x="600.7" y="489.1" font-size="11.5" text-anchor="middle">2.5</text>
<text x="186.8" y="9.9" font-size="13.1" text-anchor="middle">Four-Option Task</text>
<text x="474.0" y="9.9" font-size="13.1" text-anchor="middle">Two-Option Task</text>
<text x="186.6" y="503.8" font-size="12.85" text-anchor="middle">Trait Psychopathy</text>
<text x="474.0" y="503.8" font-size="12.85" text-anchor="middle">Trait Psychopathy</text>
<text transform="translate(10.2 121.6) rotate(-90)" font-size="12.5" text-anchor="middle">Positive PEs</text>
<text transform="translate(24.0 121.6) rotate(-90)" font-size="12.5" text-anchor="middle">Log Learning Rate (<tspan font-size="13.6" letter-spacing="0.8"><tspan font-style="italic">log</tspan>(<tspan font-style="italic">α</tspan>)</tspan>)</text>
<text transform="translate(10.2 367.4) rotate(-90)" font-size="12.5" text-anchor="middle">Negative PEs</text>
<text transform="translate(24.0 367.4) rotate(-90)" font-size="12.5" text-anchor="middle">Log Learning Rate (<tspan font-size="13.6" letter-spacing="0.8"><tspan font-style="italic">log</tspan>(<tspan font-style="italic">α</tspan>)</tspan>)</text>
<text x="629.2" y="240.2" font-size="12.7">Target</text>
<line x1="608" y1="252.8" x2="621.5" y2="252.8" stroke="#8c1cf8" stroke-width="1.6"/>
<text x="630.4" y="257" font-size="11.7">Self PEs</text>
<line x1="608" y1="269.4" x2="621.5" y2="269.4" stroke="#ff3500" stroke-width="1.6"/>
<text x="630.4" y="273.6" font-size="11.7">Other PEs</text>
</svg></body></html>
